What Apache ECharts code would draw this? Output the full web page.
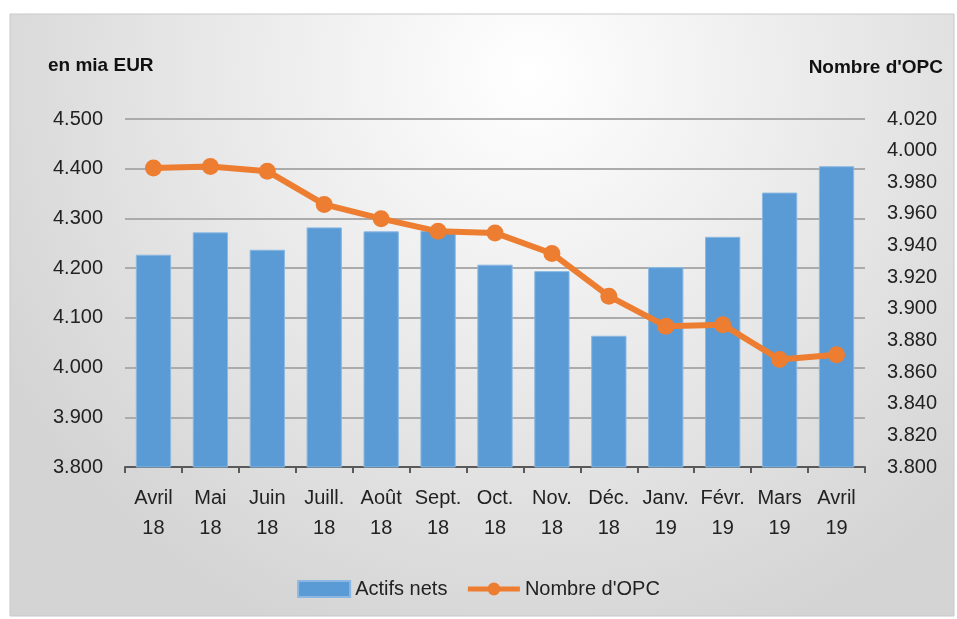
<!DOCTYPE html>
<html>
<head>
<meta charset="utf-8">
<script src="https://cdn.jsdelivr.net/npm/echarts@6/dist/echarts.min.js"></script>
<style>
html,body{margin:0;padding:0;background:#fff;}
#chart{width:957px;height:619px;}
</style>
</head>
<body>
<div id="chart"></div>
<script>
var months = ['Avril\n18','Mai\n18','Juin\n18','Juill.\n18','Août\n18','Sept.\n18','Oct.\n18','Nov.\n18','Déc.\n18','Janv.\n19','Févr.\n19','Mars\n19','Avril\n19'];
var actifsNets = [4227, 4272, 4237, 4282, 4274, 4275, 4207, 4194, 4064, 4202, 4263, 4352, 4405];
var nombreOPC = [3989, 3990, 3987, 3966, 3957, 3949, 3948, 3935, 3908, 3889, 3890, 3868, 3871];

var font = '"Liberation Sans", sans-serif';
function fmt(v){
	var s = String(v);
	return s.slice(0, s.length-3) + '.' + s.slice(-3);
}

var el = echarts.init(document.getElementById('chart'));
var elData = {
	textStyle: {fontFamily: font},
	graphic: [{
		type: 'rect',
		z: -10,
		shape: {x: 10, y: 14, width: 944, height: 602},
		style: {
			fill: new echarts.graphic.RadialGradient(0.55, 0.1, 1.0, [
				{offset: 0, color: '#ffffff'},
				{offset: 1, color: '#d4d4d4'}
			]),
			stroke: '#c9c9c9',
			lineWidth: 1
		}
	}, {
		type: 'text', left: 48, top: 56,
		style: {text: 'en mia EUR', font: 'bold 19px ' + font, fill: '#111'}
	}, {
		type: 'text', right: 14, top: 58,
		style: {text: "Nombre d'OPC", font: 'bold 19px ' + font, fill: '#111'}
	}],
	grid: {left: 125, right: 92, top: 119, bottom: 152},
	legend: {
		bottom: 15,
		left: 'center',
		itemWidth: 52,
		itemHeight: 16,
		itemGap: 18,
		textStyle: {fontSize: 20, color: '#222', fontFamily: font},
		data: [
			{name: 'Actifs nets', icon: 'rect'},
			{name: "Nombre d'OPC", lineStyle: {width: 5}}
		]
	},
	xAxis: {
		type: 'category',
		data: months,
		axisLine: {lineStyle: {color: '#5a5a5a', width: 2}},
		axisTick: {show: true, length: 6, lineStyle: {color: '#5a5a5a', width: 2}},
		axisLabel: {fontSize: 20, color: '#222', lineHeight: 30, margin: 16, interval: 0}
	},
	yAxis: [{
		type: 'value',
		min: 3800, max: 4500, interval: 100,
		axisLine: {show: false},
		axisTick: {show: false},
		splitLine: {lineStyle: {color: '#ababab', width: 2}},
		axisLabel: {fontSize: 20, color: '#222', margin: 22, formatter: fmt}
	}, {
		type: 'value',
		min: 3800, max: 4020, interval: 20,
		axisLine: {show: false},
		axisTick: {show: false},
		splitLine: {show: false},
		axisLabel: {fontSize: 20, color: '#222', margin: 22, formatter: fmt}
	}],
	series: [{
		name: 'Actifs nets',
		type: 'bar',
		barWidth: '62%',
		itemStyle: {color: '#5b9bd5', borderColor: '#8ab8e2', borderWidth: 1},
		data: actifsNets
	}, {
		name: "Nombre d'OPC",
		type: 'line',
		yAxisIndex: 1,
		symbol: 'circle',
		symbolSize: 17,
		lineStyle: {color: '#ed7d31', width: 6},
		itemStyle: {color: '#ed7d31'},
		data: nombreOPC
	}]
};
el.setOption(elData);
</script>
</body>
</html>
